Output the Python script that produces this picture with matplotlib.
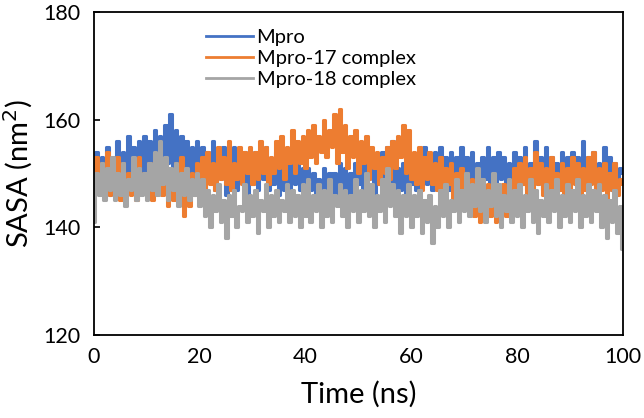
import numpy as np
import matplotlib.pyplot as plt

# time axis in ns, one frame every 0.5 ns
time_ns = np.arange(0, 100.5, 0.5)

# SASA (nm^2)
mpro = [
    150, 154, 147, 153, 149, 155, 146, 152, 150, 156, 148, 154, 150, 157, 147, 155, 149, 156, 148, 157,
    150, 156, 149, 158, 151, 157, 150, 159, 152, 161, 150, 158, 149, 157, 151, 156, 148, 155, 150, 156,
    148, 155, 147, 154, 149, 156, 147, 153, 149, 155, 146, 154, 148, 155, 147, 152, 149, 154, 146, 153,
    148, 154, 147, 153, 149, 155, 147, 152, 148, 154, 146, 151, 147, 153, 146, 152, 148, 153, 147, 151,
    146, 151, 147, 150, 145, 149, 146, 151, 147, 150, 145, 150, 146, 152, 147, 151, 145, 150, 146, 152,
    148, 153, 147, 154, 149, 152, 146, 153, 148, 154, 147, 155, 148, 156, 146, 151, 147, 152, 146, 150,
    148, 153, 147, 154, 149, 155, 148, 153, 147, 154, 149, 155, 148, 153, 147, 154, 149, 153, 148, 155,
    147, 153, 149, 154, 148, 152, 147, 153, 149, 155, 148, 153, 147, 154, 149, 153, 148, 152, 147, 154,
    149, 153, 148, 155, 147, 152, 149, 156, 148, 153, 147, 155, 149, 153, 148, 152, 147, 154, 149, 153,
    148, 154, 149, 153, 147, 156, 148, 153, 149, 154, 147, 152, 148, 155, 149, 153, 147, 152, 148, 151,
    150,
]

mpro_17 = [
    150, 153, 147, 152, 148, 154, 146, 151, 149, 153, 145, 152, 147, 150, 146, 151, 145, 153, 147, 150,
    146, 152, 145, 150, 147, 153, 146, 151, 144, 149, 145, 152, 147, 153, 142, 148, 144, 150, 146, 152,
    147, 153, 146, 154, 148, 152, 147, 155, 149, 153, 148, 156, 147, 152, 149, 155, 148, 154, 150, 155,
    148, 154, 149, 156, 150, 155, 148, 153, 150, 156, 151, 157, 149, 155, 152, 158, 150, 156, 152, 157,
    151, 158, 153, 159, 152, 157, 154, 160, 153, 158, 155, 161, 152, 162, 154, 159, 151, 157, 153, 158,
    150, 156, 152, 157, 149, 155, 151, 154, 148, 153, 150, 155, 149, 156, 151, 157, 153, 159, 150, 158,
    149, 154, 148, 155, 147, 153, 149, 154, 148, 152, 147, 153, 146, 151, 148, 152, 145, 150, 147, 151,
    145, 150, 144, 149, 142, 147, 141, 146, 143, 148, 142, 146, 141, 145, 143, 148, 142, 147, 146, 151,
    147, 152, 148, 153, 146, 151, 147, 154, 148, 152, 146, 151, 147, 153, 145, 150, 147, 152, 146, 151,
    147, 153, 148, 152, 146, 151, 147, 153, 148, 154, 146, 151, 147, 152, 145, 150, 147, 152, 146, 149,
    148,
]

mpro_18 = [
    141, 150, 146, 152, 145, 151, 147, 153, 145, 150, 146, 152, 144, 149, 147, 153, 145, 151, 146, 150,
    145, 152, 147, 154, 146, 156, 148, 153, 145, 151, 147, 152, 144, 150, 146, 151, 145, 149, 146, 150,
    144, 149, 142, 147, 140, 146, 143, 148, 141, 145, 138, 146, 142, 147, 140, 144, 143, 148, 141, 146,
    142, 147, 139, 145, 143, 148, 140, 146, 142, 147, 141, 145, 143, 148, 141, 147, 142, 146, 140, 148,
    142, 149, 141, 146, 143, 148, 140, 147, 142, 149, 141, 146, 144, 148, 142, 147, 140, 146, 143, 149,
    141, 147, 143, 150, 142, 148, 140, 146, 143, 149, 141, 151, 144, 148, 142, 147, 139, 146, 142, 148,
    140, 146, 142, 147, 139, 145, 141, 146, 137, 144, 140, 147, 142, 148, 140, 145, 143, 149, 141, 147,
    143, 150, 142, 148, 144, 151, 143, 149, 141, 147, 144, 150, 142, 148, 140, 146, 143, 149, 141, 147,
    142, 148, 140, 146, 143, 149, 141, 147, 139, 145, 142, 148, 141, 147, 143, 149, 140, 146, 142, 148,
    141, 147, 143, 149, 140, 146, 142, 148, 141, 147, 143, 148, 140, 146, 138, 145, 141, 147, 139, 144,
    136,
]

x_ticks = [0, 20, 40, 60, 80, 100]
y_ticks = [120, 140, 160, 180]

plt.rcParams['font.family'] = ['Lato', 'DejaVu Sans']

fig = plt.figure(figsize=(6.44, 4.18), dpi=100)
ax = fig.add_axes([0.146, 0.199, 0.821, 0.772])

ax.plot(time_ns, mpro, color='#4472C4', lw=2.2, drawstyle='steps-mid', label='Mpro')
ax.plot(time_ns, mpro_17, color='#ED7D31', lw=2.2, drawstyle='steps-mid', label='Mpro-17 complex')
ax.plot(time_ns, mpro_18, color='#A5A5A5', lw=2.2, drawstyle='steps-mid', label='Mpro-18 complex')

ax.set_xlim(0, 100)
ax.set_ylim(120, 180)
ax.set_xticks(x_ticks)
ax.set_yticks(y_ticks)
ax.tick_params(axis='x', length=0, pad=9, labelsize=15.5)
ax.tick_params(axis='y', direction='in', length=4, width=1.2, pad=10, labelsize=15.5)
for s in ax.spines.values():
    s.set_linewidth(1.3)

ax.set_xlabel('Time (ns)', fontsize=21, labelpad=10)
ax.set_ylabel('SASA (nm$^2$)', fontsize=21, labelpad=6)

leg = ax.legend(loc='upper left', bbox_to_anchor=(0.178, 1.005), frameon=False,
                fontsize=14.5, handlelength=2.3, labelspacing=0.2, handletextpad=0.2)
for h in leg.get_lines():
    h.set_linewidth(2.0)

fig.savefig('out.png', dpi=100)
